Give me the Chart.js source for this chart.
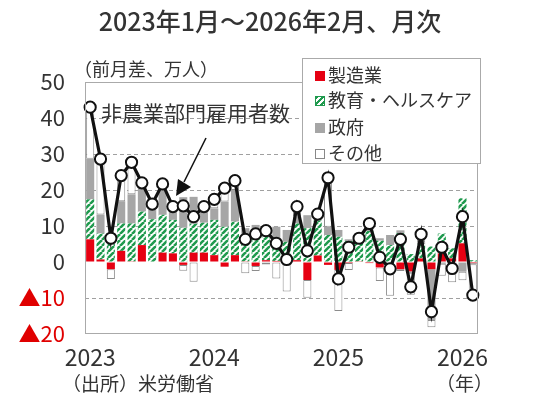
<!DOCTYPE html>
<html>
<head>
<meta charset="utf-8">
<script src="https://cdn.jsdelivr.net/npm/chart.js@4.4.1/dist/chart.umd.min.js"></script>
<style>
  body { margin: 0; background: #fff; font-family: 'Noto Sans CJK JP', sans-serif; color: #333; }
  #wrap { position: relative; width: 540px; height: 408px; overflow: hidden; }
  .txt { position: absolute; white-space: nowrap; line-height: 1; }
  #legend { position: absolute; left: 302px; top: 58px; width: 179px; height: 106px; border: 1px solid #aaa; background: #fff; box-sizing: border-box; }
  #legend div { position: absolute; left: 12px; font-size: 18px; line-height: 1; white-space: nowrap; }
  #legend span { display: inline-block; width: 10px; height: 10px; margin-right: 3px; vertical-align: 1px; box-sizing: border-box; }
</style>
</head>
<body>
<div id="wrap">
  <canvas id="c" width="540" height="408"></canvas>
  <div class="txt" style="left:0;width:540px;text-align:center;top:8px;font-size:25px;font-weight:500;">2023年1月～2026年2月、月次</div>
  <div class="txt" style="left:74px;top:59px;font-size:18px;">（前月差、万人）</div>
  <div class="txt" style="left:101px;top:102px;font-size:21px;">非農業部門雇用者数</div>
  <div class="txt" style="left:62px;top:373px;font-size:19px;">（出所）米労働省</div>
  <div class="txt" style="left:436px;top:373px;font-size:19px;">（年）</div>
  <svg width="540" height="408" style="position:absolute;left:0;top:0;">
    <line x1="206" y1="138" x2="184" y2="182" stroke="#111" stroke-width="1.6"/>
    <polygon points="176,196 178,179 191,187" fill="#111"/>
  </svg>
  <div id="legend">
    <div style="top:6px;"><span style="background:#e60012;"></span>製造業</div>
    <div style="top:31px;"><span style="background:repeating-linear-gradient(135deg,#1f9a4e 0 2px,#fff 2px 4px);border:1px solid #1f9a4e;"></span>教育・ヘルスケア</div>
    <div style="top:58px;"><span style="background:#a6a6a6;"></span>政府</div>
    <div style="top:84px;"><span style="background:#fff;border:1px solid #888;"></span>その他</div>
  </div>
</div>
<script>
const months = ['2023/1','2023/2','2023/3','2023/4','2023/5','2023/6','2023/7','2023/8','2023/9','2023/10','2023/11','2023/12',
  '2024/1','2024/2','2024/3','2024/4','2024/5','2024/6','2024/7','2024/8','2024/9','2024/10','2024/11','2024/12',
  '2025/1','2025/2','2025/3','2025/4','2025/5','2025/6','2025/7','2025/8','2025/9','2025/10','2025/11','2025/12',
  '2026/1','2026/2'];
const yearLabels = ['2023', '2024', '2025', '2026'];

// 前月差、万人
const manufacturing = [6.3,0.7,-2.0,3.1,0.2,4.7,0,2.6,2.4,-0.8,2.6,2.6,1.9,-1.3,1.9,0.2,-1.1,0.5,0.3,0.5,0.5,-5.0,1.8,-0.8,-2.2,-0.3,0.2,-0.3,-1.5,0,-2.0,-2.6,1.0,-2.0,2.4,1.0,5.2,-0.3];
const eduHealth = [11.1,7.2,5.3,7.6,10.5,9.3,11.9,10.5,9.3,9.5,8.0,8.3,9.8,9.8,9.3,6.8,6.6,6.5,5.0,5.1,10.2,9.4,9.7,7.5,7.0,5.8,5.4,8.6,5.9,4.7,8.0,2.2,4.0,4.3,5.5,2.8,12.5,0.5];
const government = [11.3,5.3,2.6,6.2,8.1,8.0,2.7,7.0,2.5,8.5,7.5,3.0,3.2,7.0,8.8,2.4,3.7,2.4,4.5,3.3,2.0,3.6,1.5,2.3,1.9,0.5,0.5,0.6,0.7,2.8,0.8,-0.5,0.5,-14.1,-0.5,-3.1,-2.7,-0.3];
const others = [14.3,15.4,-2.7,7.1,8.9,0,1.5,1.6,1.2,-1.6,-5.5,1.5,2.5,5.0,2.6,-3.1,-1.4,-0.7,-4.6,-8.2,2.7,-4.9,0.3,14.4,-11.4,-1.9,0.5,1.8,-3.8,-9.4,-0.5,-6.0,2.2,-2.0,-3.3,-2.5,-2.4,-9.1];
const nonfarm = [43,28.6,6.6,24,27.7,22,16.1,21.7,15.4,15.6,12.6,15.4,17.4,20.5,22.6,6.3,7.8,8.7,5.2,0.7,15.4,3.1,13.3,23.4,-4.7,4.1,6.6,10.7,1.3,-1.9,6.3,-6.9,7.7,-13.8,4.1,-1.8,12.6,-9.2];

function hatch() {
  const s = 6;
  const p = document.createElement('canvas');
  p.width = s; p.height = s;
  const g = p.getContext('2d');
  g.fillStyle = '#fff';
  g.fillRect(0, 0, s, s);
  g.strokeStyle = '#1f9a4e';
  g.lineWidth = 2.6;
  for (const k of [-s, 0, s]) {
    g.beginPath();
    g.moveTo(k, s);
    g.lineTo(k + s, 0);
    g.stroke();
  }
  return g.createPattern(p, 'repeat');
}

const frame = {
  id: 'frame',
  afterDatasetsDraw(chart) {
    const a = chart.chartArea, ctx = chart.ctx;
    ctx.save();
    ctx.strokeStyle = '#aaa';
    ctx.lineWidth = 1;
    ctx.strokeRect(a.left + 0.5, a.top + 0.5, a.right - a.left - 1, a.bottom - a.top - 1);
    ctx.restore();
  }
};

Chart.defaults.font.family = "'Noto Sans CJK JP', sans-serif";
Chart.defaults.color = '#333';

const barBase = { type: 'bar', order: 1, barPercentage: 0.78, categoryPercentage: 1, borderWidth: 0, borderSkipped: false };

new Chart(document.getElementById('c'), {
  data: {
    labels: months,
    datasets: [
      { ...barBase, label: '製造業', data: manufacturing, backgroundColor: '#e60012' },
      { ...barBase, label: '教育・ヘルスケア', data: eduHealth, backgroundColor: hatch() },
      { ...barBase, label: '政府', data: government, backgroundColor: '#a6a6a6' },
      { ...barBase, label: 'その他', data: others, backgroundColor: '#fff', borderColor: '#8c8c8c', borderWidth: 1 },
      {
        type: 'line', order: 0, stack: 'total', label: '非農業部門雇用者数', data: nonfarm,
        borderColor: '#111', borderWidth: 3.2, tension: 0,
        pointRadius: 5.6, pointBackgroundColor: '#fff', pointBorderColor: '#111', pointBorderWidth: 2
      }
    ]
  },
  options: {
    responsive: false,
    animation: false,
    layout: { padding: { left: 0, right: 62, top: 82, bottom: 34 } },
    plugins: { legend: { display: false }, tooltip: { enabled: false } },
    scales: {
      x: {
        stacked: true,
        grid: { display: false, drawTicks: false },
        border: { display: false },
        afterFit: s => { s.height = 40; },
        ticks: {
          autoSkip: false, maxRotation: 0, padding: 9,
          font: { size: 23 },
          callback: (v, i) => (i % 12 === 0 ? yearLabels[i / 12] : '')
        }
      },
      y: {
        stacked: true,
        min: -20, max: 50,
        afterFit: s => { s.width = 85; },
        grid: {
          drawTicks: false,
          color: c => ([0, 50, -20].includes(c.tick.value) ? 'rgba(0,0,0,0)' : '#a0a0a0')
        },
        border: { display: false, dash: [4, 3] },
        ticks: {
          stepSize: 10, padding: 20,
          font: { size: 22 },
          color: c => (c.tick.value < 0 ? '#e00000' : '#333'),
          callback: v => (v < 0 ? '▲' + Math.abs(v) : String(v))
        }
      }
    }
  },
  plugins: [frame]
});
</script>
</body>
</html>
